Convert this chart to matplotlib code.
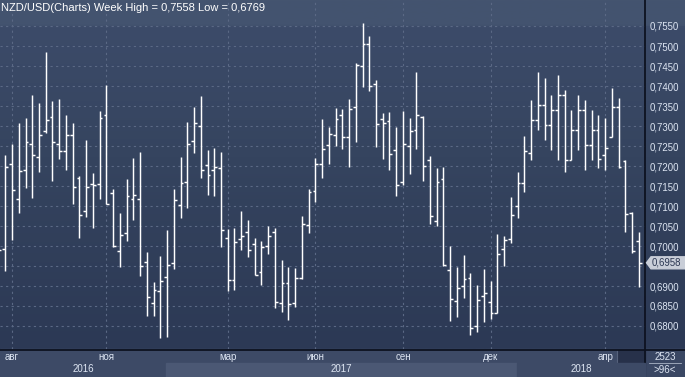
import numpy as np
import matplotlib
matplotlib.use("Agg")
import matplotlib.pyplot as plt
from matplotlib.patches import Rectangle, Polygon
from matplotlib.colors import LinearSegmentedColormap

# ---------------- data (weekly OHLC, NZD/USD) ----------------
opens = [0.7040, 0.6992, 0.7204, 0.7117, 0.7189, 0.7254, 0.7222, 0.7287, 0.7322, 0.7254,
         0.7237, 0.7277, 0.7169, 0.7087, 0.7154, 0.7154, 0.7327, 0.7132, 0.6987, 0.7032,
         0.7117, 0.7117, 0.6959, 0.6857, 0.6887, 0.6922, 0.6957, 0.7102, 0.7159, 0.7262,
         0.7299, 0.7202, 0.7189, 0.7194, 0.7019, 0.6914, 0.7017, 0.7034, 0.7004, 0.6934,
         0.6999, 0.7034, 0.6857, 0.6907, 0.6857, 0.6919, 0.7052, 0.7137, 0.7204, 0.7252,
         0.7277, 0.7327, 0.7272, 0.7347, 0.7449, 0.7504, 0.7404, 0.7317, 0.7312, 0.7239,
         0.7159, 0.7249, 0.7289, 0.7322, 0.7214, 0.7062, 0.7167, 0.6939, 0.6862, 0.6899,
         0.6919, 0.6799, 0.6874, 0.6859, 0.6832, 0.6992, 0.7017, 0.7099, 0.7157, 0.7232,
         0.7315, 0.7353, 0.7303, 0.7340, 0.7378, 0.7215, 0.7290, 0.7340, 0.7253, 0.7290,
         0.7228, 0.7272, 0.7348, 0.7213, 0.7083, 0.7013]
highs = [0.7078, 0.7228, 0.7255, 0.7308, 0.7320, 0.7378, 0.7358, 0.7485, 0.7363, 0.7368,
         0.7328, 0.7308, 0.7176, 0.7265, 0.7182, 0.7338, 0.7403, 0.7142, 0.7083, 0.7168,
         0.7220, 0.7235, 0.6985, 0.6909, 0.6974, 0.7040, 0.7142, 0.7223, 0.7310, 0.7348,
         0.7375, 0.7240, 0.7245, 0.7235, 0.7042, 0.7044, 0.7087, 0.7064, 0.7019, 0.7013,
         0.7049, 0.7044, 0.6964, 0.6947, 0.6944, 0.7074, 0.7142, 0.7220, 0.7317, 0.7297,
         0.7344, 0.7342, 0.7367, 0.7457, 0.7558, 0.7525, 0.7414, 0.7332, 0.7334, 0.7297,
         0.7337, 0.7319, 0.7434, 0.7325, 0.7224, 0.7194, 0.7198, 0.6999, 0.6947, 0.6977,
         0.6932, 0.6902, 0.6942, 0.6912, 0.7029, 0.7024, 0.7122, 0.7184, 0.7274, 0.7365,
         0.7435, 0.7420, 0.7378, 0.7428, 0.7390, 0.7340, 0.7378, 0.7365, 0.7340, 0.7328,
         0.7321, 0.7394, 0.7369, 0.7215, 0.7086, 0.7036]
lows = [0.6940, 0.6938, 0.7015, 0.7083, 0.7146, 0.7121, 0.7186, 0.7283, 0.7163, 0.7218,
        0.7191, 0.7106, 0.7021, 0.7073, 0.7046, 0.7118, 0.7104, 0.6997, 0.6948, 0.7013,
        0.7066, 0.6926, 0.6826, 0.6826, 0.6769, 0.6773, 0.6943, 0.7071, 0.7096, 0.7233,
        0.7169, 0.7128, 0.7126, 0.6998, 0.6887, 0.6889, 0.6989, 0.6972, 0.6927, 0.6903,
        0.6979, 0.6844, 0.6834, 0.6814, 0.6847, 0.6917, 0.7032, 0.7111, 0.7169, 0.7204,
        0.7251, 0.7242, 0.7198, 0.7259, 0.7398, 0.7388, 0.7248, 0.7218, 0.7189, 0.7126,
        0.7153, 0.7181, 0.7243, 0.7163, 0.7056, 0.7051, 0.6949, 0.6813, 0.6823, 0.6871,
        0.6777, 0.6784, 0.6811, 0.6818, 0.6832, 0.6949, 0.7007, 0.7069, 0.7136, 0.7215,
        0.7290, 0.7265, 0.7240, 0.7215, 0.7185, 0.7215, 0.7240, 0.7190, 0.7215, 0.7195,
        0.7190, 0.7272, 0.7196, 0.7034, 0.6983, 0.6897]
closes = [0.6989, 0.7198, 0.7139, 0.7187, 0.7259, 0.7227, 0.7277, 0.7314, 0.7259, 0.7237,
          0.7277, 0.7147, 0.7077, 0.7147, 0.7152, 0.7319, 0.7104, 0.6999, 0.7027, 0.7124,
          0.7127, 0.6949, 0.6872, 0.6889, 0.6912, 0.6952, 0.7114, 0.7157, 0.7254, 0.7307,
          0.7189, 0.7177, 0.7197, 0.7039, 0.6914, 0.7009, 0.7024, 0.6989, 0.6927, 0.6997,
          0.7024, 0.6859, 0.6907, 0.6854, 0.6919, 0.7054, 0.7134, 0.7204, 0.7242, 0.7279,
          0.7317, 0.7272, 0.7342, 0.7452, 0.7504, 0.7399, 0.7304, 0.7307, 0.7229, 0.7152,
          0.7254, 0.7287, 0.7327, 0.7199, 0.7074, 0.7159, 0.6952, 0.6867, 0.6894, 0.6917,
          0.6794, 0.6864, 0.6882, 0.6832, 0.6979, 0.7014, 0.7077, 0.7157, 0.7237, 0.7315,
          0.7353, 0.7303, 0.7340, 0.7378, 0.7215, 0.7290, 0.7340, 0.7253, 0.7290, 0.7218,
          0.7246, 0.7347, 0.7197, 0.7079, 0.6988, 0.6958]

month_labels = ["авг", "ноя", "мар", "июн", "сен", "дек", "апр"]
month_bar_index = [2, 16, 34, 47, 60, 73, 90]
year_labels = ["2016", "2017", "2018"]
year_starts = [-1.0, 24.85, 76.9]
price_ticks = [0.6800, 0.6850, 0.6900, 0.6950, 0.7000, 0.7050, 0.7100, 0.7150, 0.7200,
               0.7250, 0.7300, 0.7350, 0.7400, 0.7450, 0.7500, 0.7550]
last_price = closes[-1]
title = "NZD/USD(Charts) Week High = 0,7558 Low = 0,6769"
bars_count_text = "2523"
visible_text = ">96<"

# ---------------- figure ----------------
W, H = 685, 377
fig = plt.figure(figsize=(W / 100, H / 100), dpi=100)
FONT = "Liberation Sans"
TXT = "#dde5f2"

bg = fig.add_axes([0, 0, 1, 1], zorder=0)
bg.set_xlim(0, W)
bg.set_ylim(H, 0)
bg.axis("off")

# vertical gradient background for the chart region
cmap = LinearSegmentedColormap.from_list(
    "bgc", [(0.0, "#44546f"), (0.07, "#43536f"), (0.075, "#3c4b69"), (0.45, "#35445f"),
            (1.0, "#2c3955")])
grad = np.linspace(0, 1, 256).reshape(-1, 1)
bg.imshow(grad, cmap=cmap, aspect="auto", extent=(0, W, 349, 0), zorder=0)
# bottom strip
bg.add_patch(Rectangle((0, 349), W, 28, color="#3d4a66", zorder=1))
# right panel bottom
bg.add_patch(Rectangle((645, 349), 40, 28, color="#3a4763", zorder=1))

ax = fig.add_axes([0, 1 - 349 / H, 645 / W, 349 / H], zorder=2)
ax.patch.set_alpha(0)
ymin = 0.7550 - 323 / 4000
ymax = 0.7550 + 26 / 4000
ax.set_ylim(ymin, ymax)
step = 6.74
x0 = 1.44 / step
ax.set_xlim(x0, x0 + 645 / step)

x = np.arange(len(opens))
tick = 0.42
lw = 1.05
ax.vlines(x, lows, highs, color="white", lw=lw, zorder=3)
ax.hlines(opens, x - tick, x, color="white", lw=lw, zorder=3)
ax.hlines(closes, x, x + tick, color="white", lw=lw, zorder=3)

for s in ax.spines.values():
    s.set_visible(False)
ax.set_xticks(month_bar_index)
ax.set_xticklabels([])
ax.set_yticks(price_ticks)
# the 0,6950 label is hidden behind the last-price marker
ax.set_yticklabels(["" if abs(v - last_price) < 0.0025 else f"{v:.4f}".replace(".", ",")
                    for v in price_ticks])
ax.yaxis.set_ticks_position("right")
ax.tick_params(axis="y", length=0, pad=3.5, labelsize=6.9, labelcolor=TXT)
ax.tick_params(axis="x", length=0)
for lbl in ax.get_yticklabels():
    lbl.set_fontfamily(FONT)
ax.grid(True, color="#5b6985", lw=0.8, linestyle=(0, (2, 3)))
ax.set_axisbelow(True)

# year bands below axis
xt = ax.get_xaxis_transform()
xmax = x0 + 645 / step
ends = year_starts[1:] + [xmax]
band_cols = ["#3d4a66", "#4b5874", "#3d4a66"]
for ys, ye, lab, c in zip(year_starts, ends, year_labels, band_cols):
    ax.add_patch(Rectangle((ys, -(377 - 349) / 349), ye - ys, (377 - 362.5) / 349,
                           transform=xt, color=c, clip_on=False, zorder=1))
    cx = (max(ys, x0) + ye) / 2
    ax.text(cx, -(369.5 - 349) / 349, lab, transform=xt, ha="center", va="center",
            fontsize=7, color=TXT, family=FONT, clip_on=False)
for pos, lab in zip(month_bar_index, month_labels):
    ax.text(pos, -(356.5 - 349) / 349, lab, transform=xt, ha="center", va="center",
            fontsize=7, color=TXT, family=FONT, clip_on=False)

# dark box at bottom right of plot
bg.add_patch(Rectangle((618, 350), 27, 27, color="#27314a", zorder=5))
bg.plot([617.5, 617.5], [350, 377], color="#56627c", lw=0.8, zorder=5)

# separators
bg.plot([0, W], [349.5, 349.5], color="#0d1220", lw=1.3, zorder=6)
bg.plot([645.5, 645.5], [0, H], color="#0d1220", lw=1.3, zorder=6)

# last price marker
yp = 26 + (0.7550 - last_price) * 4000
bg.add_patch(Polygon([[646.5, yp], [651, yp - 6], [685, yp - 6], [685, yp + 6], [651, yp + 6]],
                     closed=True, color="#c9ced8", zorder=7))
bg.text(651.5, yp, f"{last_price:.4f}".replace(".", ","), fontsize=6.9, color="#2b3651",
        family=FONT, va="center", ha="left", zorder=8)

# bottom right info
bg.text(665, 356.5, bars_count_text, fontsize=7, color=TXT, family=FONT, ha="center",
        va="center", zorder=8)
bg.plot([649, 681], [363, 363], color="#aab4c6", lw=0.6, zorder=8)
bg.text(665, 370, visible_text, fontsize=7, color=TXT, family=FONT, ha="center",
        va="center", zorder=8)

# title
fig.text(1 / W, 1 - 8 / H, title, fontsize=8, color="white", family=FONT,
         ha="left", va="center", zorder=10)

fig.savefig("out.png", dpi=100)
